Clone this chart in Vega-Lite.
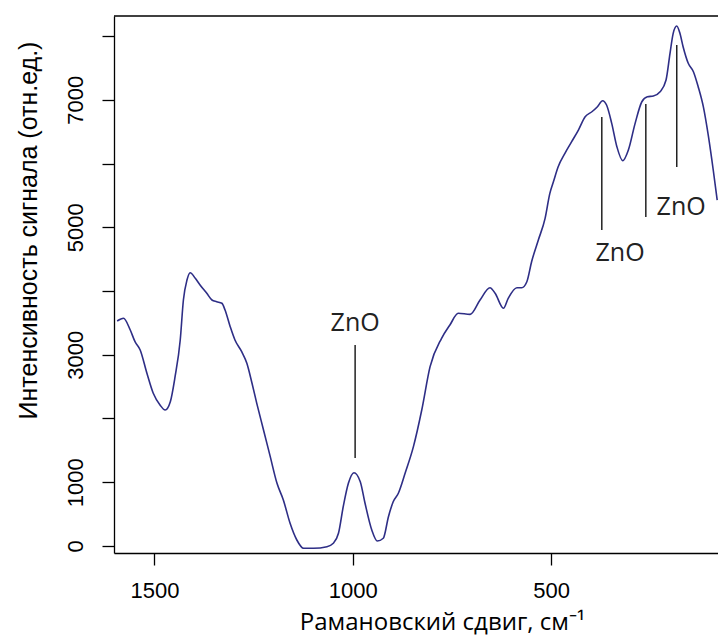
{
  "$schema": "https://vega.github.io/schema/vega-lite/v6.json",
  "width": 604,
  "height": 537,
  "autosize": "none",
  "padding": {"left": 114, "top": 16, "right": 0, "bottom": 87},
  "background": "white",
  "config": {
    "view": {"stroke": null},
    "axis": {"grid": false, "domainColor": "black", "domainWidth": 1.3, "tickColor": "black", "tickWidth": 1.3, "labelColor": "black", "titleColor": "black", "titleFontWeight": "normal"}
  },
  "datasets": {
    "spectrum": [
      {"shift": 1594, "intensity": 3529}, {"shift": 1578, "intensity": 3572}, {"shift": 1561, "intensity": 3388},
      {"shift": 1549, "intensity": 3205}, {"shift": 1536, "intensity": 3074}, {"shift": 1519, "intensity": 2709},
      {"shift": 1503, "intensity": 2395}, {"shift": 1486, "intensity": 2212}, {"shift": 1473, "intensity": 2133},
      {"shift": 1460, "intensity": 2263}, {"shift": 1448, "intensity": 2656}, {"shift": 1435, "intensity": 3231},
      {"shift": 1427, "intensity": 3859}, {"shift": 1418, "intensity": 4172}, {"shift": 1410, "intensity": 4287},
      {"shift": 1397, "intensity": 4199}, {"shift": 1385, "intensity": 4094}, {"shift": 1368, "intensity": 3964},
      {"shift": 1355, "intensity": 3859}, {"shift": 1343, "intensity": 3832}, {"shift": 1330, "intensity": 3807},
      {"shift": 1322, "intensity": 3702}, {"shift": 1309, "intensity": 3440}, {"shift": 1297, "intensity": 3231},
      {"shift": 1280, "intensity": 3048}, {"shift": 1267, "intensity": 2866}, {"shift": 1254, "intensity": 2552},
      {"shift": 1242, "intensity": 2238}, {"shift": 1225, "intensity": 1820}, {"shift": 1208, "intensity": 1401},
      {"shift": 1191, "intensity": 983}, {"shift": 1175, "intensity": 722}, {"shift": 1158, "intensity": 356},
      {"shift": 1141, "intensity": 94}, {"shift": 1124, "intensity": -36}, {"shift": 1099, "intensity": -36},
      {"shift": 1065, "intensity": -11}, {"shift": 1049, "intensity": 42}, {"shift": 1036, "intensity": 199},
      {"shift": 1024, "intensity": 616}, {"shift": 1011, "intensity": 983}, {"shift": 997, "intensity": 1150},
      {"shift": 981, "intensity": 1009}, {"shift": 969, "intensity": 670}, {"shift": 952, "intensity": 251},
      {"shift": 938, "intensity": 78}, {"shift": 923, "intensity": 121}, {"shift": 910, "intensity": 460},
      {"shift": 898, "intensity": 695}, {"shift": 885, "intensity": 827}, {"shift": 868, "intensity": 1140},
      {"shift": 847, "intensity": 1558}, {"shift": 826, "intensity": 2133}, {"shift": 805, "intensity": 2813},
      {"shift": 776, "intensity": 3258}, {"shift": 755, "intensity": 3467}, {"shift": 734, "intensity": 3650},
      {"shift": 704, "intensity": 3634}, {"shift": 679, "intensity": 3859}, {"shift": 654, "intensity": 4052},
      {"shift": 641, "intensity": 3964}, {"shift": 620, "intensity": 3729}, {"shift": 608, "intensity": 3885},
      {"shift": 586, "intensity": 4052}, {"shift": 574, "intensity": 4052}, {"shift": 561, "intensity": 4146},
      {"shift": 549, "intensity": 4460}, {"shift": 532, "intensity": 4800}, {"shift": 515, "intensity": 5140},
      {"shift": 503, "intensity": 5532}, {"shift": 494, "intensity": 5714}, {"shift": 482, "intensity": 5950},
      {"shift": 465, "intensity": 6160}, {"shift": 448, "intensity": 6342}, {"shift": 431, "intensity": 6525},
      {"shift": 414, "intensity": 6734}, {"shift": 397, "intensity": 6812}, {"shift": 383, "intensity": 6891},
      {"shift": 370, "intensity": 6985}, {"shift": 360, "intensity": 6918}, {"shift": 347, "intensity": 6630},
      {"shift": 334, "intensity": 6264}, {"shift": 319, "intensity": 6044}, {"shift": 305, "intensity": 6212},
      {"shift": 288, "intensity": 6630}, {"shift": 271, "intensity": 6969}, {"shift": 257, "intensity": 7048},
      {"shift": 242, "intensity": 7059}, {"shift": 225, "intensity": 7126}, {"shift": 210, "intensity": 7310},
      {"shift": 200, "intensity": 7728}, {"shift": 192, "intensity": 8042}, {"shift": 183, "intensity": 8157},
      {"shift": 175, "intensity": 8042}, {"shift": 167, "intensity": 7832}, {"shift": 154, "intensity": 7572},
      {"shift": 141, "intensity": 7440}, {"shift": 129, "intensity": 7205}, {"shift": 116, "intensity": 6891},
      {"shift": 103, "intensity": 6420}, {"shift": 91, "intensity": 5898}, {"shift": 81, "intensity": 5427}
    ],
    "markers": [
      {"shift": 994, "top": 3153, "bottom": 1380},
      {"shift": 372, "top": 6729, "bottom": 4957},
      {"shift": 261, "top": 6933, "bottom": 5161},
      {"shift": 183, "top": 7859, "bottom": 5945}
    ],
    "labels": [
      {"shift": 994, "intensity": 3498, "text": "ZnO"},
      {"shift": 326, "intensity": 4596, "text": "ZnO"},
      {"shift": 172, "intensity": 5318, "text": "ZnO"}
    ],
    "frame": [
      {"from": 1602, "to": 79, "level": 8314}
    ]
  },
  "layer": [
    {
      "data": {"name": "spectrum"},
      "mark": {"type": "line", "color": "#2e2e86", "strokeWidth": 1.6, "interpolate": "monotone"},
      "encoding": {
        "x": {
          "field": "shift", "type": "quantitative",
          "scale": {"domain": [79, 1602], "reverse": true, "nice": false, "zero": false},
          "axis": {
            "values": [1500, 1000, 500], "tickSize": 12, "labelPadding": 15,
            "labelFont": "Liberation Sans", "labelFontSize": 22, "format": "d",
            "title": "Рамановский сдвиг, см⁻¹", "titleFont": "Open Sans", "titleFontSize": 24,
            "titleX": 328, "titleY": 76, "titleBaseline": "alphabetic", "titleAnchor": "middle", "titleAlign": "center"
          }
        },
        "y": {
          "field": "intensity", "type": "quantitative",
          "scale": {"domain": [-110, 8314], "nice": false, "zero": false},
          "axis": {
            "values": [0, 1000, 2000, 3000, 4000, 5000, 6000, 7000, 8000],
            "labelExpr": "indexof([0, 1000, 3000, 5000, 7000], datum.value) >= 0 ? datum.label : ''",
            "format": "d", "tickSize": 12, "labelPadding": 20, "labelAngle": -90,
            "labelAlign": "center", "labelBaseline": "alphabetic",
            "labelFont": "Liberation Sans", "labelFontSize": 22,
            "title": "Интенсивность сигнала (отн.ед.)", "titleFont": "Liberation Sans", "titleFontSize": 25,
            "titleX": -86, "titleY": 214, "titleAngle": -90, "titleAlign": "center", "titleBaseline": "middle"
          }
        }
      }
    },
    {
      "data": {"name": "markers"},
      "mark": {"type": "rule", "color": "#222222", "strokeWidth": 1.5},
      "encoding": {
        "x": {"field": "shift", "type": "quantitative"},
        "y": {"field": "top", "type": "quantitative"},
        "y2": {"field": "bottom"}
      }
    },
    {
      "data": {"name": "labels"},
      "mark": {"type": "text", "font": "Open Sans", "fontSize": 25, "color": "#222222", "align": "center", "baseline": "middle"},
      "encoding": {
        "x": {"field": "shift", "type": "quantitative"},
        "y": {"field": "intensity", "type": "quantitative"},
        "text": {"field": "text"}
      }
    },
    {
      "data": {"name": "frame"},
      "mark": {"type": "rule", "color": "black", "strokeWidth": 1.3},
      "encoding": {
        "x": {"field": "from", "type": "quantitative"},
        "x2": {"field": "to"},
        "y": {"field": "level", "type": "quantitative"}
      }
    }
  ]
}
